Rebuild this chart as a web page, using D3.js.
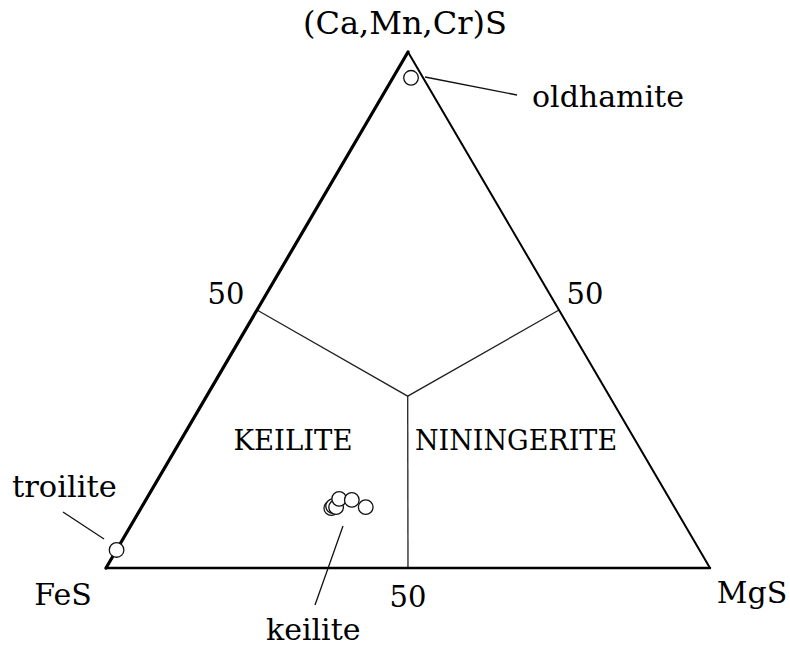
<!DOCTYPE html>
<html lang="en">
<head>
  <meta charset="UTF-8">
  <title></title>
  <style>
    html, body {
      margin: 0;
      background: #fff;
      overflow: hidden;
      width: 100%;
      height: 100%;
    }
    svg {
      position: absolute;
      top: 0;
      left: 0;
    }
    text {
      font-family: "DejaVu Serif", "Liberation Serif", serif;
      fill: #000;
    }
  </style>
</head>
<body>
  <svg width="790" height="648"></svg>
</body>
<script src="https://d3js.org/d3.v7.min.js"></script>
<script type="text/javascript">
  // end members: apex, lower left, lower right
  const vertexLabels = ['(Ca,Mn,Cr)S', 'FeS', 'MgS']
  const tickLabels = ['50', '50', '50']
  const fieldNames = ['KEILITE', 'NININGERITE']

  // boundary lines, mol % (Ca,Mn,Cr)S and MgS, rest FeS
  const boundaryCa = [50, 33.3, 50]
  const boundaryMg = [0, 33.3, 50]
  const dividerCa = [33.3, 0]
  const dividerMg = [33.3, 50]

  // analyses
  const oldhamiteCa = [95]
  const oldhamiteMg = [3]
  const troiliteCa = [3.5]
  const troiliteMg = [0]
  const keiliteCa = [11.6, 12.0, 11.8, 13.4, 13.2, 11.8]
  const keiliteMg = [31.5, 31.6, 32.2, 31.9, 34.1, 37.1]

  const svg = d3.select('svg')

  const xLeft = 106, xRight = 710, yBase = 568, yApex = 52

  const x = d3.scaleLinear().domain([0, 100]).range([xLeft, xRight])
  const y = d3.scaleLinear().domain([0, 100]).range([yBase, yApex])

  // ternary -> screen
  const px = (ca, mg) => x(mg + ca / 2)
  const py = (ca) => y(ca)

  const line = d3.line().x(d => px(d[0], d[1])).y(d => py(d[0]))

  // boundaries
  svg.append('path')
    .attr('d', line(boundaryCa.map((c, i) => [c, boundaryMg[i]])))
    .attr('fill', 'none')
    .attr('stroke', '#222')
    .attr('stroke-width', 1.3)
  svg.append('path')
    .attr('d', line(dividerCa.map((c, i) => [c, dividerMg[i]])))
    .attr('fill', 'none')
    .attr('stroke', '#222')
    .attr('stroke-width', 1.3)

  // triangle edges
  const corners = [[100, 0], [0, 0], [0, 100]]
  const widths = [2, 3.2, 2.4]   // right, left, base
  ;[[0, 2], [0, 1], [1, 2]].forEach((e, i) => {
    svg.append('path')
      .attr('d', line([corners[e[0]], corners[e[1]]]))
      .attr('stroke', '#000')
      .attr('stroke-width', widths[i])
      .attr('stroke-linecap', 'round')
  })

  // leader lines
  const leaders = [
    [[425, 77], [517, 95]],
    [[63, 512], [104, 539]],
    [[343, 526], [315, 605]]
  ]
  svg.selectAll('line.leader')
    .data(leaders)
    .enter()
    .append('line')
    .attr('class', 'leader')
    .attr('x1', d => d[0][0]).attr('y1', d => d[0][1])
    .attr('x2', d => d[1][0]).attr('y2', d => d[1][1])
    .attr('stroke', '#111')
    .attr('stroke-width', 1.3)

  // points
  const pts = []
  oldhamiteCa.forEach((c, i) => pts.push([c, oldhamiteMg[i]]))
  troiliteCa.forEach((c, i) => pts.push([c, troiliteMg[i]]))
  keiliteCa.forEach((c, i) => pts.push([c, keiliteMg[i]]))

  svg.selectAll('circle')
    .data(pts)
    .enter()
    .append('circle')
    .attr('cx', d => px(d[0], d[1]))
    .attr('cy', d => py(d[0]))
    .attr('r', 7.3)
    .attr('fill', '#fff')
    .attr('stroke', '#111')
    .attr('stroke-width', 1.3)

  // texts
  const labels = [
    { t: vertexLabels[0], x: 405, y: 34, a: 'middle', s: 32 },
    { t: vertexLabels[1], x: 63, y: 605, a: 'middle', s: 30 },
    { t: vertexLabels[2], x: 752, y: 603, a: 'middle', s: 30 },
    { t: tickLabels[0], x: 226, y: 304, a: 'middle', s: 29 },
    { t: tickLabels[1], x: 585, y: 304, a: 'middle', s: 29 },
    { t: tickLabels[2], x: 408, y: 607, a: 'middle', s: 29 },
    { t: fieldNames[0], x: 293, y: 450, a: 'middle', s: 27.5 },
    { t: fieldNames[1], x: 516, y: 450, a: 'middle', s: 27 },
    { t: 'oldhamite', x: 532, y: 107, a: 'start', s: 30 },
    { t: 'troilite', x: 12, y: 497, a: 'start', s: 30.5 },
    { t: 'keilite', x: 266, y: 640, a: 'start', s: 30 }
  ]
  svg.selectAll('text')
    .data(labels)
    .enter()
    .append('text')
    .attr('x', d => d.x)
    .attr('y', d => d.y)
    .attr('text-anchor', d => d.a)
    .attr('font-size', d => d.s)
    .text(d => d.t)
</script>
</html>
